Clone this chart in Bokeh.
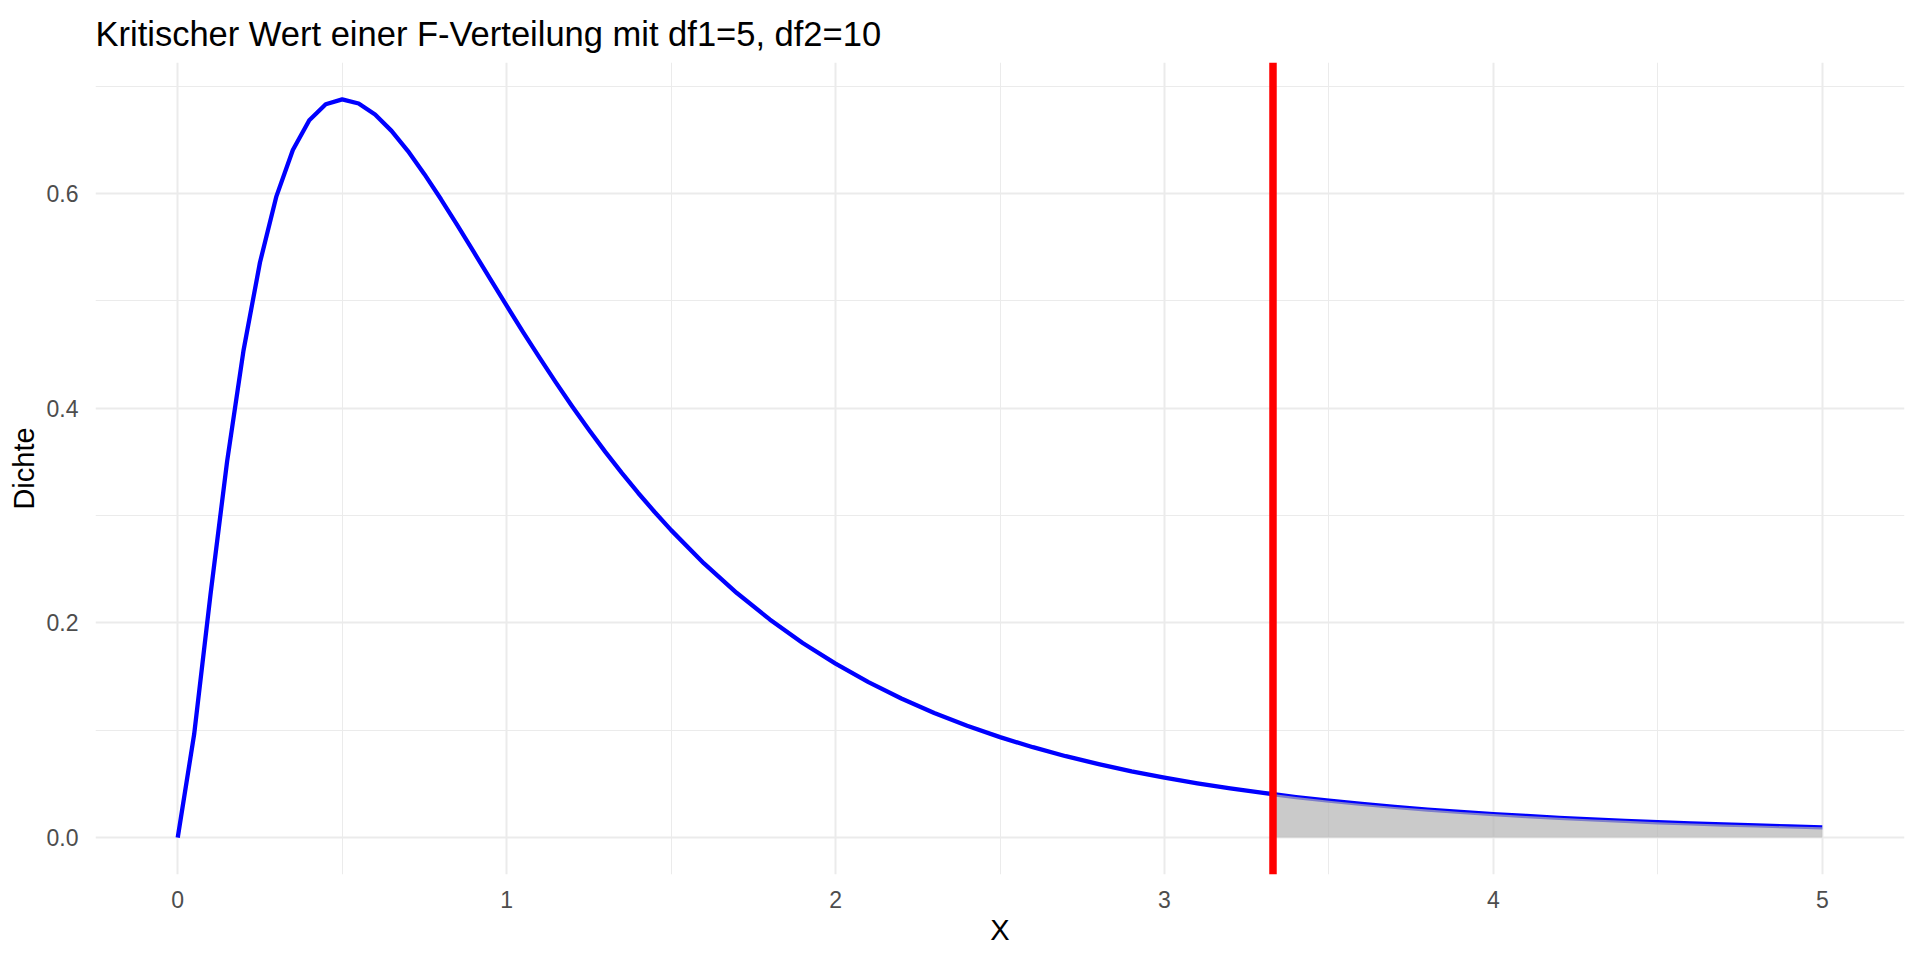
from bokeh.plotting import figure
from bokeh.models import Range1d, FixedTicker, Span
from bokeh.embed import file_html
from bokeh.resources import INLINE

# ---- data ----
title_text = "Kritischer Wert einer F-Verteilung mit df1=5, df2=10"
x_label = "X"
y_label = "Dichte"

x_vals = [0.00, 0.05, 0.10, 0.15, 0.20, 0.25, 0.30, 0.35, 0.40, 0.45,
          0.50, 0.55, 0.60, 0.65, 0.70, 0.75, 0.80, 0.85, 0.90, 0.95,
          1.00, 1.05, 1.10, 1.15, 1.20, 1.25, 1.30, 1.35, 1.40, 1.45,
          1.50, 1.60, 1.70, 1.80, 1.90, 2.00, 2.10, 2.20, 2.30, 2.40,
          2.50, 2.60, 2.70, 2.80, 2.90, 3.00, 3.10, 3.20, 3.30, 3.40,
          3.50, 3.60, 3.70, 3.80, 3.90, 4.00, 4.10, 4.20, 4.30, 4.40,
          4.50, 4.60, 4.70, 4.80, 4.90, 5.00]
density = [0.0000, 0.0963, 0.2274, 0.3501, 0.4537, 0.5357, 0.5973, 0.6405, 0.6682, 0.6831,
           0.6876, 0.6838, 0.6735, 0.6583, 0.6395, 0.6180, 0.5948, 0.5704, 0.5455, 0.5204,
           0.4954, 0.4709, 0.4470, 0.4238, 0.4014, 0.3799, 0.3593, 0.3397, 0.3210, 0.3033,
           0.2864, 0.2554, 0.2278, 0.2032, 0.1813, 0.1620, 0.1448, 0.1296, 0.1161, 0.1042,
           0.0936, 0.0842, 0.0758, 0.0684, 0.0617, 0.0558, 0.0505, 0.0458, 0.0416, 0.0378,
           0.0344, 0.0314, 0.0286, 0.0261, 0.0239, 0.0219, 0.0201, 0.0184, 0.0169, 0.0156,
           0.0143, 0.0132, 0.0122, 0.0113, 0.0104, 0.0096]

critical_value = 3.33
critical_density = 0.0405

x_ticks = [0, 1, 2, 3, 4, 5]
x_tick_labels = ["0", "1", "2", "3", "4", "5"]
x_minor = [0.5, 1.5, 2.5, 3.5, 4.5]
y_ticks = [0.0, 0.2, 0.4, 0.6]
y_tick_labels = ["0.0", "0.2", "0.4", "0.6"]
y_minor = [0.1, 0.3, 0.5, 0.7]

# shaded tail region
area_x = [critical_value] + [x for x in x_vals if x > critical_value]
area_y = [critical_density] + [d for x, d in zip(x_vals, density) if x > critical_value]

# ggplot-like 5% expansion of ranges
x_lo, x_hi = min(x_vals), max(x_vals)
y_lo, y_hi = 0.0, max(density)
xr = (x_lo - 0.05 * (x_hi - x_lo), x_hi + 0.05 * (x_hi - x_lo))
yr = (y_lo - 0.05 * (y_hi - y_lo), y_hi + 0.05 * (y_hi - y_lo))

FONT = "Liberation Sans"

p = figure(width=1912, height=952, output_backend="svg", toolbar_location=None,
           x_range=Range1d(*xr), y_range=Range1d(*yr),
           min_border_left=95, min_border_right=8, min_border_top=62, min_border_bottom=78)

p.title.text = title_text
p.title.text_font = FONT
p.title.text_font_size = "34.5px"
p.title.text_font_style = "normal"
p.title.text_color = "#000000"
p.title.align = "left"
p.title.standoff = 19

p.outline_line_color = None
p.background_fill_color = "white"
p.border_fill_color = "white"

# axes
p.xaxis.ticker = FixedTicker(ticks=x_ticks, minor_ticks=x_minor)
p.yaxis.ticker = FixedTicker(ticks=y_ticks, minor_ticks=y_minor)
p.xaxis.major_label_overrides = dict(zip(x_ticks, x_tick_labels))
p.yaxis.major_label_overrides = dict(zip(y_ticks, y_tick_labels))
for ax in (p.xaxis, p.yaxis):
    ax.axis_line_color = None
    ax.major_tick_line_color = None
    ax.minor_tick_line_color = None
    ax.major_tick_out = 0
    ax.major_tick_in = 0
    ax.major_label_text_font = FONT
    ax.major_label_text_font_size = "23px"
    ax.major_label_text_color = "#4D4D4D"
    ax.axis_label_text_font = FONT
    ax.axis_label_text_font_size = "29px"
    ax.axis_label_text_font_style = "normal"
    ax.axis_label_text_color = "#000000"
p.xaxis.axis_label = x_label
p.yaxis.axis_label = y_label
p.xaxis.major_label_standoff = 12
p.yaxis.major_label_standoff = 13
p.xaxis.axis_label_standoff = 3
p.yaxis.axis_label_standoff = 4

# grids
for g in (p.xgrid, p.ygrid):
    g.grid_line_color = "#EBEBEB"
    g.grid_line_width = 2
    g.minor_grid_line_color = "#EBEBEB"
    g.minor_grid_line_width = 1

# density curve
p.line(x_vals, density, line_color="#0000FF", line_width=4.3, line_join="round")

# shaded rejection region (drawn over the curve, semi-transparent)
p.varea(x=area_x, y1=[0.0] * len(area_x), y2=area_y, fill_color="#B4B4B4", fill_alpha=0.7)

# critical value
p.add_layout(Span(location=critical_value, dimension="height", line_color="#FF0000", line_width=7.5))

open("out.html", "w").write(file_html(p, INLINE))
